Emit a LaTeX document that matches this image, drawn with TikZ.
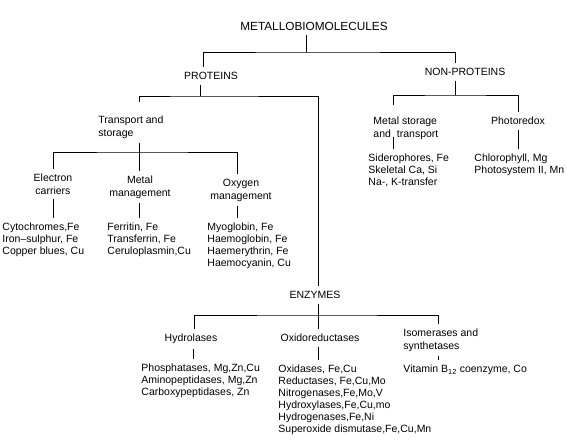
\documentclass[tikz,border=0pt]{standalone}
\usepackage{fontspec}
\setmainfont{Liberation Sans}
\usepackage{tikz}
\tikzset{
    lbl/.style ={inner sep=0pt, outer ysep=5pt, font=\fontsize{10.5}{12.5}\selectfont},
    heading/.style ={lbl, align=center, anchor=north},
    group/.style ={lbl, align=left, anchor=north west},
    items/.style ={lbl, align=left, anchor=north west, font=\fontsize{10.5}{12}\selectfont}
}

\begin{document}
\begin{tikzpicture}[x=1pt, y=-1pt, line width=0.9pt]
    \useasboundingbox (0,0) rectangle (567,439);

    \node[heading, font=\fontsize{11.8}{14}\selectfont] (meta) at (314,16.8) {METALLOBIOMOLECULES};
    \node[heading] (prot) at (211,67.2) {PROTEINS};
    \node[heading] (nonp) at (465,63.2) {NON-PROTEINS};

    \node[group] (trans) at (98,111.2) {Transport and\\storage};
    \node[heading] (elec) at (53,169.2) {Electron\\carriers};
    \node[heading] (metman) at (140,171.2) {Metal\\management};
    \node[heading] (oxyman) at (241,174.2) {Oxygen\\management};
    \node[items] (cyto) at (2,218.2) {Cytochromes,Fe\\Iron–sulphur, Fe\\Copper blues, Cu};
    \node[items] (ferr) at (107,218.2) {Ferritin, Fe\\Transferrin, Fe\\Ceruloplasmin,Cu};
    \node[items] (myo) at (207,218.2) {Myoglobin, Fe\\Haemoglobin, Fe\\Haemerythrin, Fe\\Haemocyanin, Cu};

    \node[group] (metst) at (373,112.2) {Metal storage\\and\hspace{6pt}transport};
    \node[heading] (photo) at (518,112.2) {Photoredox};
    \node[items] (sider) at (368,149.2) {Siderophores, Fe\\Skeletal Ca, Si\\Na-, K-transfer};
    \node[items] (chloro) at (474,149.2) {Chlorophyll, Mg\\Photosystem II, Mn};

    \node[heading] (enz) at (315,286.2) {ENZYMES};
    \node[heading] (hydro) at (191,329.2) {Hydrolases};
    \node[heading] (oxido) at (320,329.2) {Oxidoreductases};
    \node[group] (isom) at (403,324.2) {Isomerases and\\synthetases};
    \node[items] (phos) at (141,359.2) {Phosphatases, Mg,Zn,Cu\\Aminopeptidases, Mg,Zn\\Carboxypeptidases, Zn};
    \node[items] (oxid) at (278,360.2) {Oxidases, Fe,Cu\\Reductases, Fe,Cu,Mo\\Nitrogenases,Fe,Mo,V\\Hydroxylases,Fe,Cu,mo\\Hydrogenases,Fe,Ni\\Superoxide dismutase,Fe,Cu,Mn};
    \node[items] (vitb) at (403,360.2) {Vitamin B\textsubscript{12} coenzyme, Co};

    \coordinate (j0) at (306,52);
    \coordinate (j1) at (200,96);
    \coordinate (j2) at (455,95);
    \coordinate (j3) at (139,152);
    \coordinate (j4) at (318,315);

    \draw (j0 |- meta.south) -- (j0);
    \draw ([xshift=-8pt]prot.north) |- (j0) -| ([xshift=-10pt]nonp.north);

    \draw (j1 |- prot.south) -- (j1);
    \draw[shorten <=9pt] ([xshift=41pt]trans.north west) |- (j1) -| ([xshift=3pt]enz.north);
    \draw (j3 |- trans.south) -- (j3);
    \draw (elec.north) |- (j3) -| ([xshift=-4pt]oxyman.north);
    \draw (j3) -- (j3 |- metman.north);
    \draw (elec.south) -- (elec.south |- cyto.north);
    \draw (j3 |- metman.south) -- (j3 |- ferr.north);
    \draw ([xshift=-4pt]oxyman.south) -- ([xshift=-4pt]oxyman.south |- myo.north);

    \draw (j2 |- nonp.south) -- (j2);
    \draw[shorten <=7pt] ([xshift=20pt]metst.north west) |- (j2) -| (photo.north);
    \draw ([xshift=20pt,yshift=7pt]metst.south west) -- ([xshift=20pt]metst.south west |- sider.north);
    \draw (photo.south) -- (photo.south |- chloro.north);

    \draw (j4 |- enz.south) -- (j4);
    \draw ([xshift=3pt]hydro.north) |- (j4) -| ([xshift=35pt]isom.north west);
    \draw (j4) -- (j4 |- oxido.north);
    \draw ([xshift=2pt]hydro.south) -- ([xshift=2pt]hydro.south |- phos.north);
    \draw (j4 |- oxido.south) -- (j4 |- oxid.north);
    \draw ([xshift=35pt]isom.south west) -- ([xshift=35pt]isom.south west |- vitb.north);
\end{tikzpicture}
\end{document}
